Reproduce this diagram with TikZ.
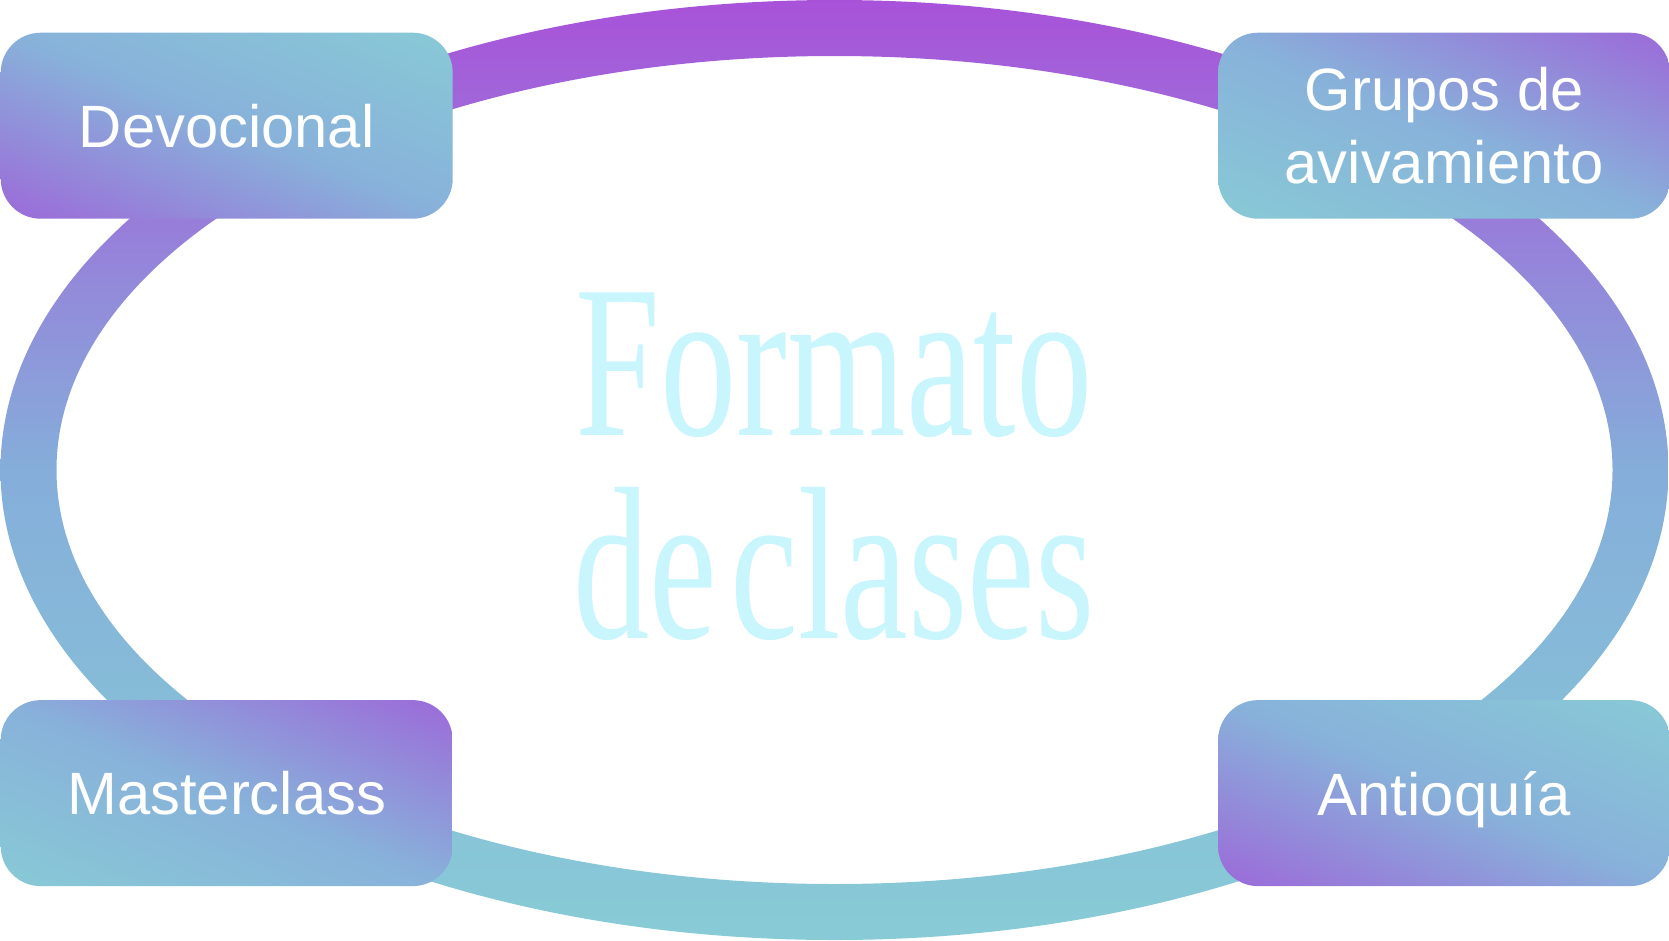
\documentclass[tikz,border=0pt]{standalone}
\usepackage{fontspec}
\setmainfont{Liberation Sans}
\newfontfamily\titlefont[FakeStretch=0.70,WordSpace=0.35]{Liberation Serif}
\usetikzlibrary{positioning}

\definecolor{ringpurple}{HTML}{A852D9}
\definecolor{ringblue}{HTML}{85AEDA}
\definecolor{ringteal}{HTML}{88CBD6}
\definecolor{titlecyan}{HTML}{C9F5FD}

% Shading for the ring.
\pgfdeclareverticalshading{ringfill}{100bp}{color(0bp)=(ringteal);
  color(25bp)=(ringteal); color(50bp)=(ringblue);
  color(75bp)=(ringpurple); color(100bp)=(ringpurple)}

% Shading for the boxes: purple corner -> blue -> teal corner.
\pgfdeclarefunctionalshading{chipfill}{\pgfpointorigin}{\pgfpoint{100bp}{100bp}}{}{
  add 50 sub 100 div
  dup 0 lt {pop 0} if
  dup 1 gt {pop 1} if
  dup 0.5 lt
  { 2 mul
    dup -0.079 mul 0.612 add exch
    dup 0.282 mul 0.412 add exch
    0.004 mul 0.851 add }
  { 2 mul 1 sub
    dup 0.0 mul 0.533 add exch
    dup 0.098 mul 0.694 add exch
    -0.016 mul 0.855 add }
  ifelse
}

\begin{document}
\begin{tikzpicture}[
        node distance=0pt,
        chip/.style={
          shade,
          shading=chipfill,
          shading angle=#1,
          rounded corners=0.4cm,
          minimum width=4.52cm,
          minimum height=1.86cm,
          inner sep=0pt,
          text=white,
          align=center,
          font=\fontsize{17}{20.8}\selectfont
        }]

        % Page size.
        \useasboundingbox (0,0) rectangle (16.69,9.40);

        % Draw the ring.
        \coordinate (c) at (8.345,4.70);
        \shade[shading=ringfill,even odd rule]
          (c) ellipse [x radius=8.34cm,y radius=4.70cm]
          (c) ellipse [x radius=7.78cm,y radius=4.14cm];

        % The four boxes.
        \node[chip=0,anchor=north west] (devo) at (0,9.08) {Devocional};
        \node[chip=180,right=7.64cm of devo] (grupos) {Grupos de\\avivamiento};
        \node[chip=180,below=4.80cm of devo] (master) {Masterclass};
        \node[chip=0,text depth=0pt,right=7.64cm of master] (antio) {Antioquía};

        % Title.
        \node[text=titlecyan,align=center,
          font=\titlefont\fontsize{62}{57.8}\selectfont] (title) at (8.34,4.735)
          {Formato\\de clases};
      \end{tikzpicture}
\end{document}
